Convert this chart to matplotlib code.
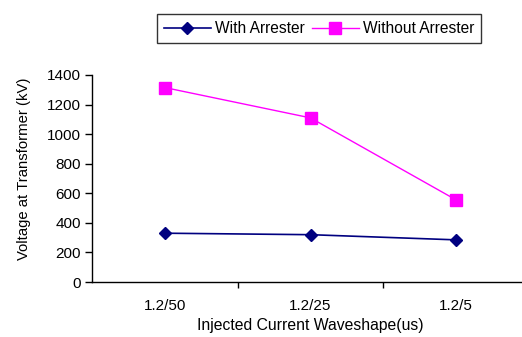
import numpy as np
import matplotlib.pyplot as plt

plt.rcParams['font.family'] = ['Liberation Sans', 'DejaVu Sans']

# data
waveshapes = ['1.2/50', '1.2/25', '1.2/5']
with_arrester = [330, 320, 285]
without_arrester = [1315, 1110, 555]

x = np.arange(len(waveshapes))

fig = plt.figure(figsize=(5.22, 3.37), dpi=100)
ax = fig.add_axes([92/522, 55/337, 437/522, 207/337])

ax.plot(x, with_arrester, color='#000080', lw=1.2, marker='D', ms=6,
        label='With Arrester')
ax.plot(x, without_arrester, color='#FF00FF', lw=1.0, marker='s', ms=9,
        label='Without Arrester')

ax.set_xlim(-0.5, 2.5)
ax.set_ylim(0, 1400)
ax.set_yticks(np.arange(0, 1401, 200))
ax.set_xticks(x)
ax.set_xticklabels(waveshapes)
ax.set_xticks([0.5, 1.5], minor=True)
ax.tick_params(axis='x', which='major', length=0, pad=12.5, labelsize=11)
ax.tick_params(axis='x', which='minor', length=4, width=1)
ax.tick_params(axis='y', length=5, width=1, labelsize=11, pad=3)

for s in ['top', 'right']:
    ax.spines[s].set_visible(False)
for s in ['left', 'bottom']:
    ax.spines[s].set_linewidth(1)

ax.set_xlabel('Injected Current Waveshape(us)', fontsize=11.3, labelpad=3)
ax.set_ylabel('Voltage at Transformer (kV)', fontsize=10.7)
ax.yaxis.set_label_coords(31/522, 1 - 169/337, transform=fig.transFigure)

leg = fig.legend(loc='center', bbox_to_anchor=(319/522, 1 - 28.5/337), ncol=2,
                 fontsize=11.2, frameon=True, fancybox=False, handlelength=3,
                 columnspacing=0.5, handletextpad=0.25, borderpad=0.45,
                 borderaxespad=0)
leg.get_frame().set_edgecolor('black')
leg.get_frame().set_linewidth(1)

fig.savefig('out.png', dpi=100)
